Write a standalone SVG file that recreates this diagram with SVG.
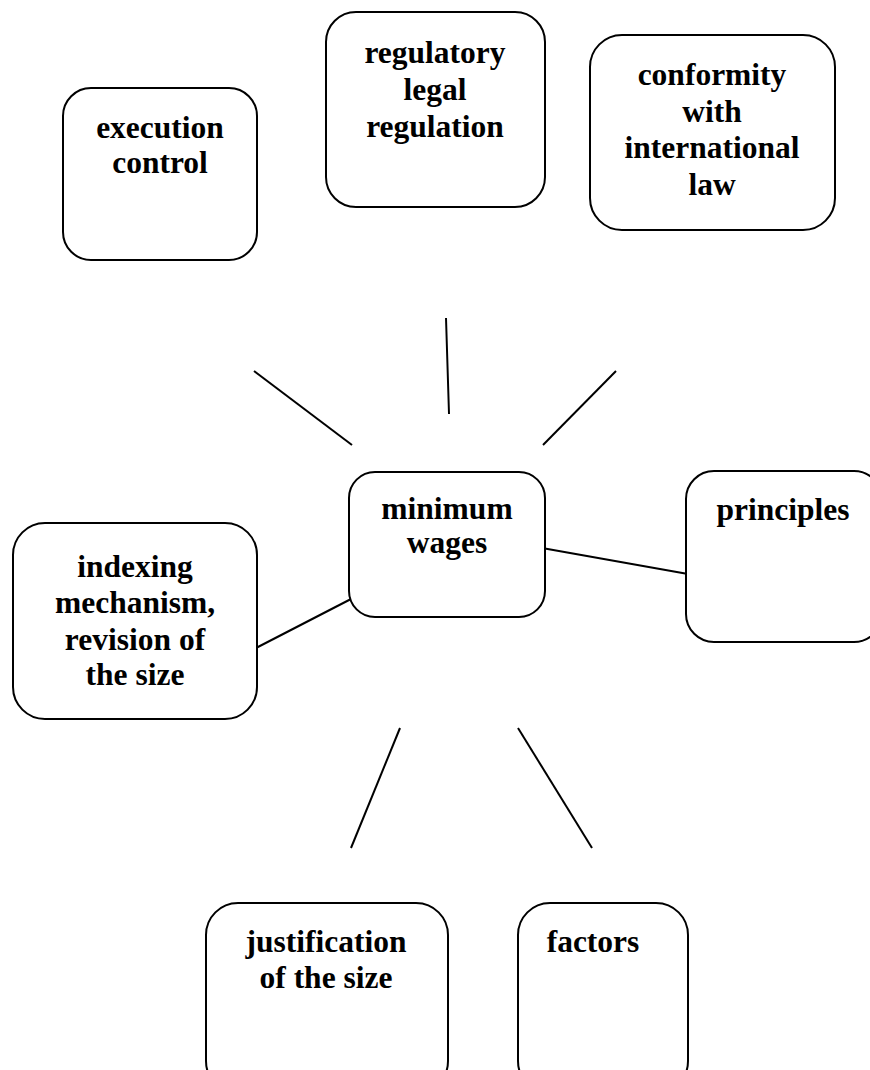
<svg xmlns="http://www.w3.org/2000/svg" width="870" height="1070" viewBox="0 0 870 1070">
<style>
.box{fill:#fff;stroke:#000;stroke-width:2}
.t{font-family:"Liberation Serif","Times New Roman",serif;font-weight:bold;font-size:31.5px;fill:#000;text-anchor:middle}
.c line{stroke:#000;stroke-width:2}
</style>
<rect width="870" height="1070" fill="#fff"/>
<g class="c" id="connectors">
<line x1="254" y1="371" x2="352" y2="445"/>
<line x1="446" y1="318" x2="449" y2="414"/>
<line x1="616" y1="371" x2="543" y2="445"/>
<line x1="542" y1="548" x2="688" y2="574"/>
<line x1="256" y1="648" x2="351" y2="599"/>
<line x1="400" y1="728" x2="351" y2="848"/>
<line x1="518" y1="728" x2="592" y2="848"/>
</g>
<g id="execution-control">
<rect class="box" x="63" y="88" width="194" height="172" rx="28"/>
<text class="t" x="160" y="138">execution</text>
<text class="t" x="160" y="173">control</text>
</g>
<g id="regulatory">
<rect class="box" x="326" y="12" width="219" height="195" rx="30"/>
<text class="t" x="435" y="63">regulatory</text>
<text class="t" x="435" y="100">legal</text>
<text class="t" x="435" y="137">regulation</text>
</g>
<g id="conformity">
<rect class="box" x="590" y="35" width="245" height="195" rx="32"/>
<text class="t" x="712" y="85">conformity</text>
<text class="t" x="712" y="122">with</text>
<text class="t" x="712" y="158">international</text>
<text class="t" x="712" y="195">law</text>
</g>
<g id="minimum-wages">
<rect class="box" x="349" y="472" width="196" height="145" rx="26"/>
<text class="t" x="447" y="519">minimum</text>
<text class="t" x="447" y="553">wages</text>
</g>
<g id="indexing">
<rect class="box" x="13" y="523" width="244" height="196" rx="32"/>
<text class="t" x="135" y="577">indexing</text>
<text class="t" x="135" y="613">mechanism,</text>
<text class="t" x="135" y="650">revision of</text>
<text class="t" x="135" y="685">the size</text>
</g>
<g id="principles">
<rect class="box" x="686" y="471" width="196" height="171" rx="28"/>
<text class="t" x="783" y="520">principles</text>
</g>
<g id="justification">
<rect class="box" x="206" y="903" width="242" height="190" rx="32"/>
<text class="t" x="326" y="952">justification</text>
<text class="t" x="326" y="988">of the size</text>
</g>
<g id="factors">
<rect class="box" x="518" y="903" width="170" height="190" rx="32"/>
<text class="t" x="593" y="952">factors</text>
</g>
</svg>
